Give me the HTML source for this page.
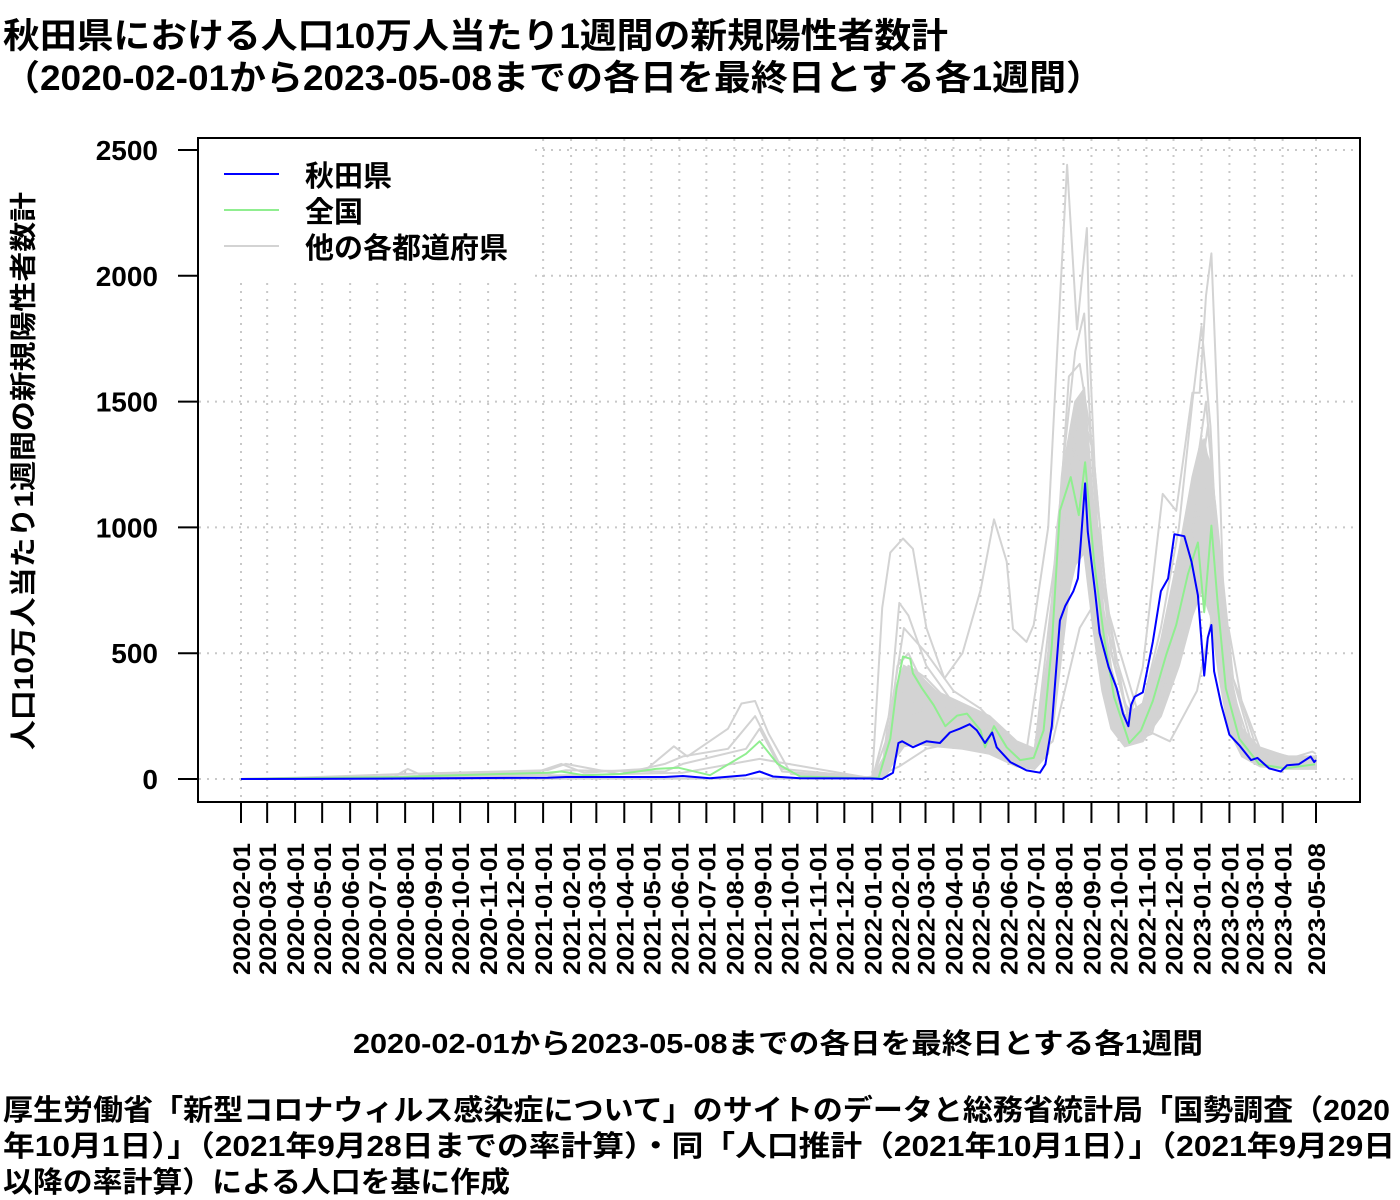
<!DOCTYPE html>
<html><head><meta charset="utf-8"><style>
html,body{margin:0;padding:0;background:#fff}
svg{display:block}
text{font-family:"Liberation Sans","Noto Sans CJK JP",sans-serif;font-weight:bold;fill:#000}
</style></head><body>
<svg id="chart" width="1400" height="1200" viewBox="0 0 1400 1200" xmlns="http://www.w3.org/2000/svg">
<text x="3" y="48" font-size="35" textLength="945" lengthAdjust="spacingAndGlyphs">秋田県における人口10万人当たり1週間の新規陽性者数計</text>
<text x="3" y="90" font-size="35" textLength="1100" lengthAdjust="spacingAndGlyphs">（2020-02-01から2023-05-08までの各日を最終日とする各1週間）</text>
<g id="grid"></g>
<g id="series"></g>
<rect x="199" y="139" width="331" height="143" fill="#fff"/>
<g>
<line x1="224" y1="174" x2="279" y2="174" stroke="#0000ff" stroke-width="2"/>
<text x="305" y="186" font-size="29">秋田県</text>
<line x1="224" y1="210" x2="279" y2="210" stroke="#90ee90" stroke-width="2"/>
<text x="305" y="222" font-size="29">全国</text>
<line x1="224" y1="246" x2="279" y2="246" stroke="#d3d3d3" stroke-width="2"/>
<text x="305" y="258" font-size="29">他の各都道府県</text>
</g>
<rect x="198" y="138" width="1162" height="664" fill="none" stroke="#000" stroke-width="2"/>
<g id="axes"></g>
<text transform="translate(33,471) rotate(-90)" text-anchor="middle" font-size="27" textLength="558" lengthAdjust="spacingAndGlyphs">人口10万人当たり1週間の新規陽性者数計</text>
<text x="778" y="1053" text-anchor="middle" font-size="28" textLength="850" lengthAdjust="spacingAndGlyphs">2020-02-01から2023-05-08までの各日を最終日とする各1週間</text>
<text x="3" y="1120" font-size="29" textLength="1387" lengthAdjust="spacingAndGlyphs">厚生労働省「新型コロナウィルス感染症について」のサイトのデータと総務省統計局「国勢調査（2020</text>
<text x="3" y="1156" font-size="29" textLength="1392" lengthAdjust="spacingAndGlyphs">年10月1日）」（2021年9月28日までの率計算）・同「人口推計（2021年10月1日）」（2021年9月29日</text>
<text x="3" y="1192" font-size="29" textLength="507" lengthAdjust="spacingAndGlyphs">以降の率計算）による人口を基に作成</text>
</svg>
<script>
const yTicks = [0, 500, 1000, 1500, 2000, 2500];
const xTickLabels = ["2020-02-01","2020-03-01","2020-04-01","2020-05-01","2020-06-01","2020-07-01","2020-08-01","2020-09-01","2020-10-01","2020-11-01","2020-12-01","2021-01-01","2021-02-01","2021-03-01","2021-04-01","2021-05-01","2021-06-01","2021-07-01","2021-08-01","2021-09-01","2021-10-01","2021-11-01","2021-12-01","2022-01-01","2022-02-01","2022-03-01","2022-04-01","2022-05-01","2022-06-01","2022-07-01","2022-08-01","2022-09-01","2022-10-01","2022-11-01","2022-12-01","2023-01-01","2023-02-01","2023-03-01","2023-04-01","2023-05-08"];

const akitaDays = [0,180,340,360,470,490,520,560,575,590,620,700,711,723,729,733,745,760,775,786,797,808,816,825,833,838,853,871,886,892,899,908,914,923,928,931,936,939,947,952,962,971,978,984,987,991,1000,1011,1020,1028,1035,1046,1054,1061,1068,1072,1076,1079,1087,1096,1107,1120,1127,1140,1153,1160,1173,1186,1190,1192];
const akitaVals = [0,2,5,8,8,12,3,15,30,10,3,2,0,25,143,150,126,150,143,185,200,218,193,143,185,126,67,34,25,59,210,630,688,747,797,931,1175,982,747,579,445,361,260,210,294,327,344,545,747,797,973,965,864,730,411,562,612,428,294,176,134,75,84,42,30,55,59,89,67,75];

const nationalDays = [0,60,180,190,340,355,380,420,460,485,520,560,575,595,620,690,707,720,727,734,742,745,755,768,781,794,805,820,825,835,849,864,879,890,899,908,920,929,936,946,957,968,985,998,1011,1026,1037,1050,1061,1068,1076,1083,1092,1107,1129,1158,1191];
const nationalVals = [0,3,8,10,25,30,15,20,40,45,15,100,150,60,10,3,5,160,361,487,478,420,361,294,210,252,260,193,126,210,126,75,84,193,529,1066,1200,1049,1259,864,562,327,143,193,310,495,612,814,940,663,1007,697,361,160,59,42,59];

const bandDays = [700,715,725,735,750,770,800,830,860,880,895,905,915,925,935,945,955,965,980,1000,1020,1040,1055,1065,1075,1085,1095,1110,1130,1160,1192];
const bandHigh = [0,100,350,450,420,350,300,250,150,120,500,1000,1300,1500,1550,1100,650,420,250,300,550,900,1200,1350,1250,850,450,200,120,90,90];
const bandLow = [0,10,80,130,140,130,120,100,50,40,100,400,700,850,900,600,350,200,130,150,250,450,650,750,650,400,200,90,50,40,40];

const other1Days = [0,170,185,200,330,355,380,450,480,495,540,555,570,585,610,690,700,711,720,734,745,760,780,800,820,835,849,856,871,879,895,905,916,927,938,941,952,968,983,1000,1022,1037,1055,1063,1070,1076,1083,1091,1104,1122,1158,1188,1192];
const other1Vals = [0,10,40,15,30,60,25,40,130,90,200,300,310,180,20,5,10,680,900,956,915,600,400,500,750,1032,864,596,545,612,1000,1700,2441,1787,2190,1703,780,361,210,445,1133,1066,1535,1535,1921,2089,1451,529,193,109,75,109,100];
const other2Days = [0,60,180,340,360,420,470,490,540,570,600,700,711,720,730,740,760,790,820,850,880,895,910,925,935,945,960,980,1000,1020,1040,1055,1065,1075,1085,1100,1120,1150,1192];
const other2Vals = [0,5,20,35,60,20,60,90,120,250,40,5,40,300,700,650,450,300,250,130,100,400,1200,1700,1850,1200,500,250,300,600,1000,1500,1800,1400,700,250,100,60,80];
const other3Days = [0,340,360,470,490,560,575,600,700,715,728,740,760,790,820,850,880,900,915,930,945,960,980,1000,1020,1040,1060,1072,1085,1100,1120,1192];
const other3Vals = [0,20,35,30,60,120,200,30,3,100,450,500,350,250,220,100,70,500,1100,1500,1300,700,300,200,350,700,1100,1400,900,300,100,70];
const other4Days = [0,360,490,575,700,720,735,760,800,830,870,900,920,940,960,990,1020,1050,1070,1090,1110,1192];
const other4Vals = [0,15,25,80,2,60,250,280,180,160,60,200,800,1000,600,250,300,700,1000,500,150,50];
const other5Days = [0,700,730,760,800,830,870,900,930,955,975,1000,1030,1060,1080,1095,1110,1130,1192];
const other5Vals = [0,2,50,120,150,120,60,150,600,750,500,200,150,350,700,600,300,80,40];
const other6Days = [700,725,745,800,830,880,905,930,950,970,990,1010,1030,1050,1070,1085,1100,1120,1150,1192];
const other6Vals = [0,150,300,200,170,80,700,1050,1000,450,150,180,450,900,1150,800,400,150,60,50];
const other7Days = [700,722,735,760,790,820,870,900,920,945,965,990,1020,1050,1068,1080,1100,1130,1192];
const other7Vals = [0,300,600,500,350,280,90,800,1350,1100,500,160,450,1000,1350,1100,400,120,60];
const other8Days = [700,725,740,760,800,830,880,905,918,930,945,965,990,1015,1040,1058,1070,1082,1095,1120,1192];
const other8Vals = [0,250,450,400,250,200,110,900,1600,1650,1300,500,180,250,700,1200,1500,1000,400,120,60];

const NS = "http://www.w3.org/2000/svg";
const startMs = Date.UTC(2020,1,1);
function dayOf(s){const p=s.split("-");return Math.round((Date.UTC(+p[0],+p[1]-1,+p[2])-startMs)/86400000);}
const xMaxDay = dayOf("2023-05-08");
function xs(d){return 241 + d*(1316-241)/xMaxDay;}
function ys(v){return 779 - v*(779-150)/2500;}
function mk(tag, attrs, parent){const e=document.createElementNS(NS,tag);for(const k in attrs)e.setAttribute(k,attrs[k]);parent.appendChild(e);return e;}

const grid = document.getElementById("grid");
const axes = document.getElementById("axes");
const series = document.getElementById("series");

yTicks.forEach(v=>{
  const g = mk("line",{x1:199,x2:1359,y1:ys(v),y2:ys(v),stroke:"#c8c8c8","stroke-width":2,"stroke-dasharray":"2,6"},grid);
  
  
  const t = mk("line",{x1:178,x2:198,y1:ys(v),y2:ys(v),stroke:"#000","stroke-width":2},axes);
  
  
  const l = mk("text",{x:158,y:ys(v)+10,"text-anchor":"end","font-size":28},axes);
  l.textContent = v;
  
  
});

xTickLabels.forEach(s=>{
  const x = xs(dayOf(s));
  const g = mk("line",{x1:x,x2:x,y1:139,y2:801,stroke:"#c8c8c8","stroke-width":2,"stroke-dasharray":"2,6"},grid);
  
  
  const t = mk("line",{x1:x,x2:x,y1:802,y2:823,stroke:"#000","stroke-width":2},axes);
  
  
  const l = mk("text",{transform:"translate("+(x+9)+",843) rotate(-90)","text-anchor":"end","font-size":24,textLength:132,lengthAdjust:"spacingAndGlyphs"},axes);
  l.textContent = s;
  
  
});

const bandPts = bandDays.map((d,i)=>xs(d).toFixed(1)+","+ys(bandHigh[i]).toFixed(1))
  .concat(bandDays.slice().reverse().map((d,j)=>{const i=bandDays.length-1-j;return xs(d).toFixed(1)+","+ys(bandLow[i]).toFixed(1);})).join(" ");
const band = mk("polygon",{points:bandPts,fill:"#d3d3d3",stroke:"#d3d3d3","stroke-width":2},series);



function drawLine(days, vals, color, name){
  const pts = days.map((d,i)=>xs(d).toFixed(1)+","+ys(vals[i]).toFixed(1)).join(" ");
  const p = mk("polyline",{points:pts,fill:"none",stroke:color,"stroke-width":2,"stroke-linejoin":"round"},series);
  
  
}
drawLine(other5Days, other5Vals, "#d3d3d3", "other-prefecture-line");
drawLine(other4Days, other4Vals, "#d3d3d3", "other-prefecture-line");
drawLine(other6Days, other6Vals, "#d3d3d3", "other-prefecture-line");
drawLine(other3Days, other3Vals, "#d3d3d3", "other-prefecture-line");
drawLine(other7Days, other7Vals, "#d3d3d3", "other-prefecture-line");
drawLine(other8Days, other8Vals, "#d3d3d3", "other-prefecture-line");
drawLine(other2Days, other2Vals, "#d3d3d3", "other-prefecture-line");
drawLine(other1Days, other1Vals, "#d3d3d3", "other-prefecture-line");
drawLine(nationalDays, nationalVals, "#90ee90", "national-line");
drawLine(akitaDays, akitaVals, "#0000ff", "akita-line");
</script>
</body></html>
